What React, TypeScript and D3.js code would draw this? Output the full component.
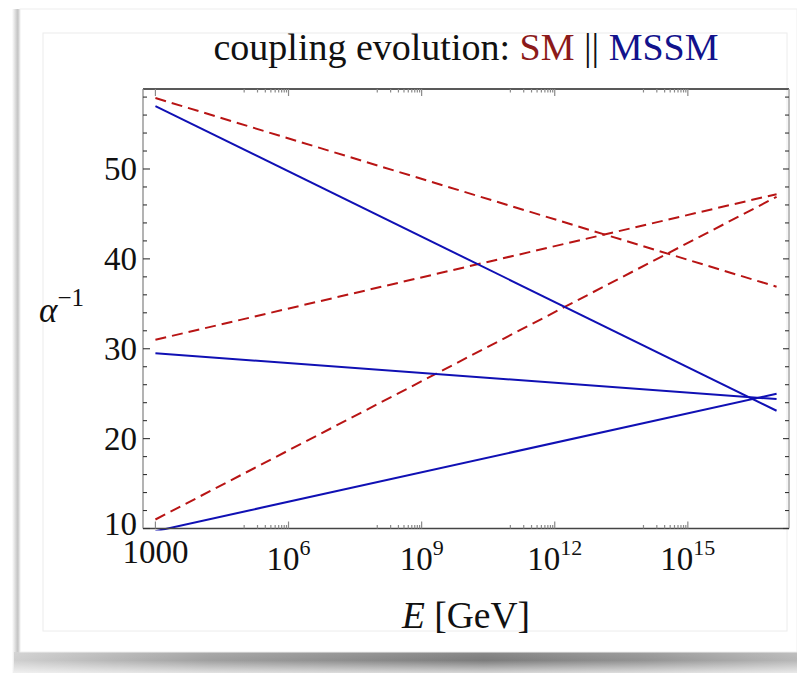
import React from "react";
import * as d3 from "d3";

// energy endpoints (GeV) of every running coupling line
const energies = [1e3, 1e17];

// SM inverse couplings (dashed red)
const smAlpha1 = [57.9, 36.9];
const smAlpha2 = [31.0, 47.2];
const smAlpha3 = [11.0, 46.9];

// MSSM inverse couplings (solid blue)
const mssmAlpha1 = [57.0, 23.1];
const mssmAlpha2 = [29.5, 24.4];
const mssmAlpha3 = [9.7, 25.0];

const xMajorExponents = [3, 6, 9, 12, 15];
const yMajorTicks = [10, 20, 30, 40, 50];

const W = 797;
const H = 673;
const plot = { left: 143, right: 789, top: 89, bottom: 528.5 };
const FONT = "'Liberation Serif', 'Times New Roman', serif";

const App = () => {
  const x = d3
    .scaleLog()
    .domain([10 ** 2.72, 10 ** 17.28])
    .range([plot.left, plot.right]);
  const y = d3.scaleLinear().domain([10, 58.9]).range([plot.bottom, plot.top]);

  const line = d3
    .line<number>()
    .x((_, i) => x(energies[i]))
    .y((d) => y(d));

  // minor log ticks: the decade just below each labelled tick
  const xMinor: number[] = [];
  xMajorExponents.slice(1).forEach((e) => {
    for (let k = 1; k <= 9; k++) xMinor.push(k * 10 ** (e - 1));
  });
  const yMinor = d3.range(12, 59, 2).filter((v) => v % 10 !== 0);

  const axisGrey = "#8a8a8a";

  return (
    <svg
      width={W}
      height={H}
      style={{ position: "absolute", left: 0, top: 0, display: "block" }}
      fontFamily={FONT}
    >
      <defs>
        <linearGradient id="leftShade" x1="0" x2="1" y1="0" y2="0">
          <stop offset="0" stopColor="#ffffff" />
          <stop offset="0.6" stopColor="#c6c6c6" />
          <stop offset="1" stopColor="#e6e6e6" />
        </linearGradient>
        <linearGradient id="bottomShade" x1="0" x2="1" y1="0" y2="0">
          <stop offset="0" stopColor="#cfcfcf" />
          <stop offset="0.25" stopColor="#a0a0a0" />
          <stop offset="0.6" stopColor="#7c7c7c" />
          <stop offset="0.8" stopColor="#939393" />
          <stop offset="1" stopColor="#b8b8b8" />
        </linearGradient>
        <linearGradient id="bottomFade" x1="0" x2="0" y1="0" y2="1">
          <stop offset="0" stopColor="#ffffff" stopOpacity="0.1" />
          <stop offset="0.4" stopColor="#ffffff" stopOpacity="0" />
          <stop offset="1" stopColor="#ffffff" stopOpacity="0.7" />
        </linearGradient>
        <clipPath id="plotClip">
          <rect
            x={plot.left}
            y={plot.top}
            width={plot.right - plot.left}
            height={plot.bottom - plot.top + 2}
          />
        </clipPath>
      </defs>

      <rect width={W} height={H} fill="#ffffff" />

      {/* card shadow */}
      <rect x={12} y={9} width={9} height={H - 9} fill="url(#leftShade)" />
      <rect x={14} y={652} width={W - 14} height={21} fill="url(#bottomShade)" />
      <rect x={14} y={652} width={W - 14} height={21} fill="url(#bottomFade)" />
      <rect x={20} y={9} width={W - 20} height={643} fill="#ffffff" stroke="#eeeeee" />
      <rect x={43} y={33} width={744} height={598} fill="#ffffff" stroke="#ececec" />

      {/* title */}
      <text x={466} y={60} textAnchor="middle" fontSize={38} fill="#111">
        <tspan>coupling evolution: </tspan>
        <tspan fill="#8c1a1a">SM</tspan>
        <tspan> || </tspan>
        <tspan fill="#12128c">MSSM</tspan>
      </text>

      {/* lines */}
      <g clipPath="url(#plotClip)" fill="none" strokeWidth={2}>
        {[smAlpha1, smAlpha2, smAlpha3].map((s, i) => (
          <path key={"sm" + i} d={line(s) || ""} stroke="#b81414" strokeDasharray="11,6" />
        ))}
        {[mssmAlpha1, mssmAlpha2, mssmAlpha3].map((s, i) => (
          <path key={"mssm" + i} d={line(s) || ""} stroke="#1010b4" />
        ))}
      </g>

      {/* frame */}
      <line x1={plot.left} x2={plot.right} y1={plot.top} y2={plot.top} stroke="#222" strokeWidth={1.3} />
      <line x1={plot.left} x2={plot.right} y1={plot.bottom} y2={plot.bottom} stroke="#444" strokeWidth={1.3} />
      <line x1={plot.left} x2={plot.left} y1={plot.top} y2={plot.bottom} stroke={axisGrey} strokeWidth={1.3} />
      <line x1={plot.right} x2={plot.right} y1={plot.top} y2={plot.bottom} stroke="#9a9a9a" strokeWidth={1.3} />

      {/* x ticks */}
      <g stroke={axisGrey} strokeWidth={1.2}>
        {xMajorExponents.map((e) => (
          <g key={"xM" + e}>
            <line x1={x(10 ** e)} x2={x(10 ** e)} y1={plot.bottom} y2={plot.bottom - 7} />
            <line x1={x(10 ** e)} x2={x(10 ** e)} y1={plot.top} y2={plot.top + 7} />
          </g>
        ))}
        {xMinor.map((v, i) => (
          <g key={"xm" + i}>
            <line x1={x(v)} x2={x(v)} y1={plot.bottom} y2={plot.bottom - 3.5} />
            <line x1={x(v)} x2={x(v)} y1={plot.top} y2={plot.top + 3.5} />
          </g>
        ))}
      </g>

      {/* y ticks */}
      <g stroke="#333" strokeWidth={1.1}>
        {yMajorTicks.map((v) => (
          <g key={"yM" + v}>
            <line x1={plot.left} x2={plot.left + 7} y1={y(v)} y2={y(v)} />
            <line x1={plot.right} x2={plot.right - 6} y1={y(v)} y2={y(v)} />
          </g>
        ))}
        {yMinor.map((v) => (
          <g key={"ym" + v}>
            <line x1={plot.left} x2={plot.left + 4} y1={y(v)} y2={y(v)} />
            <line x1={plot.right} x2={plot.right - 4} y1={y(v)} y2={y(v)} />
          </g>
        ))}
      </g>

      {/* y tick labels */}
      {yMajorTicks.map((v) => (
        <text
          key={"yl" + v}
          x={137}
          y={v === 10 ? y(v) + 6 : y(v) + 11}
          textAnchor="end"
          fontSize={33}
          fill="#111"
        >
          {v}
        </text>
      ))}

      {/* x tick labels */}
      {xMajorExponents.map((e) =>
        e === 3 ? (
          <text key={"xl" + e} x={x(10 ** e)} y={563} textAnchor="middle" fontSize={33} fill="#111">
            1000
          </text>
        ) : (
          <text key={"xl" + e} x={x(10 ** e)} y={570} textAnchor="middle" fontSize={33} fill="#111">
            <tspan>10</tspan>
            <tspan dy={-15} fontSize={22}>
              {e}
            </tspan>
          </text>
        )
      )}

      {/* axis labels */}
      <text x={466} y={628} textAnchor="middle" fontSize={37.5} fill="#111">
        <tspan fontStyle="italic">E</tspan>
        <tspan> [GeV]</tspan>
      </text>
      <text x={39} y={322} fontSize={35} fill="#111">
        <tspan fontStyle="italic">α</tspan>
        <tspan dy={-16} fontSize={25}>
          −1
        </tspan>
      </text>
    </svg>
  );
};

export default App;
